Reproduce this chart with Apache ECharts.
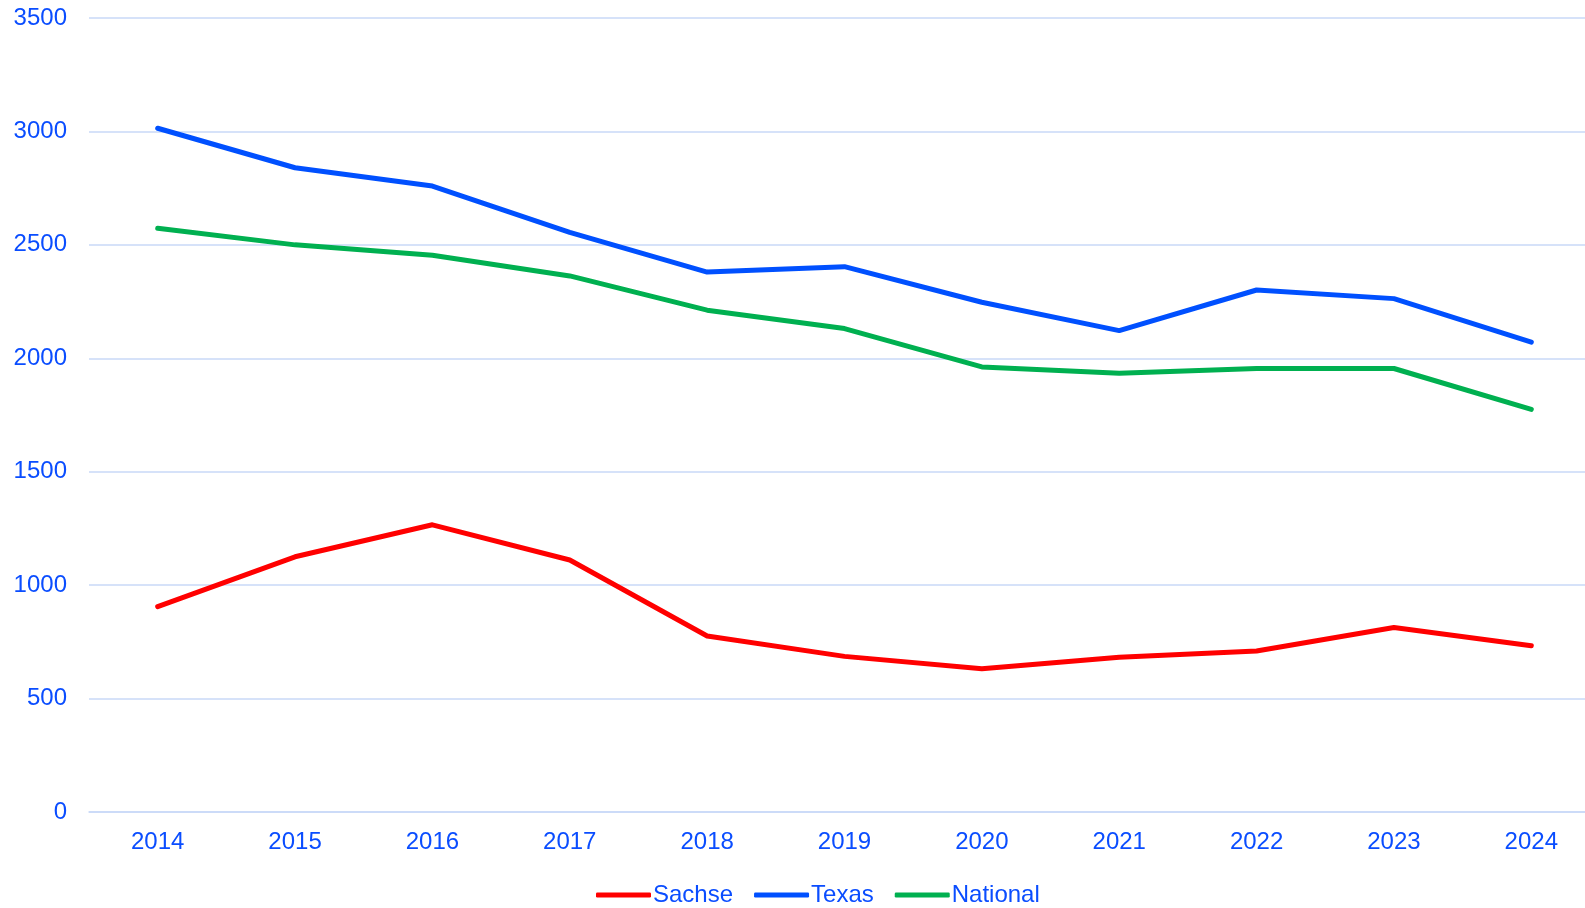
<!DOCTYPE html>
<html>
<head>
<meta charset="utf-8">
<script src="https://cdn.jsdelivr.net/npm/echarts@6/dist/echarts.min.js"></script>
<style>
  html, body { margin: 0; padding: 0; background: #fff; }
  #chart { width: 1585px; height: 908px; }
</style>
</head>
<body>
<div id="chart"></div>
<script>
// 年份
var years = ['2014', '2015', '2016', '2017', '2018', '2019', '2020', '2021', '2022', '2023', '2024'];

// 各系列数值
var sachse = [905, 1125, 1266, 1111, 776, 686, 631, 682, 710, 813, 733];
var texas = [3014, 2840, 2759, 2555, 2380, 2404, 2247, 2122, 2301, 2263, 2071];
var national = [2573, 2500, 2454, 2363, 2212, 2131, 1962, 1934, 1955, 1955, 1775];

var labelBlue = '#0a4dff';
var gridBlue = '#c9d9f7';

window.onload = function () {
    var chart = echarts.init(document.getElementById('chart'));

    function line(name, data, color) {
        return {
            name: name,
            type: 'line',
            data: data,
            symbol: 'none',
            lineStyle: { color: color, width: 5, cap: 'round', join: 'round' },
            itemStyle: { color: color }
        };
    }

    var option = {
        animation: false,
        textStyle: { fontFamily: 'Liberation Sans, Arial, sans-serif' },
        grid: { left: 89, top: 18, width: 1511, bottom: 96, outerBoundsMode: 'none' },
        legend: {
            top: 878,
            left: 591,
            icon: 'roundRect',
            itemWidth: 55,
            itemHeight: 5,
            itemGap: 21,
            textStyle: { color: labelBlue, fontSize: 24, padding: [0, 0, 0, -3] },
            data: ['Sachse', 'Texas', 'National']
        },
        xAxis: {
            type: 'category',
            data: years,
            boundaryGap: true,
            axisLine: { lineStyle: { color: gridBlue, width: 1.5 } },
            axisTick: { show: false },
            axisLabel: { color: labelBlue, fontSize: 24, margin: 18 }
        },
        yAxis: {
            type: 'value',
            min: 0,
            max: 3500,
            interval: 500,
            axisLine: { show: false },
            axisTick: { show: false },
            axisLabel: {
                color: labelBlue,
                fontSize: 24,
                margin: 22,
                formatter: function (v) { return String(v); }
            },
            splitLine: { lineStyle: { color: gridBlue, width: 1.5 } }
        },
        series: [
            line('Sachse', sachse, '#ff0000'),
            line('Texas', texas, '#0050ff'),
            line('National', national, '#00b050')
        ]
    };

    chart.setOption(option);
};
</script>
</body>
</html>
